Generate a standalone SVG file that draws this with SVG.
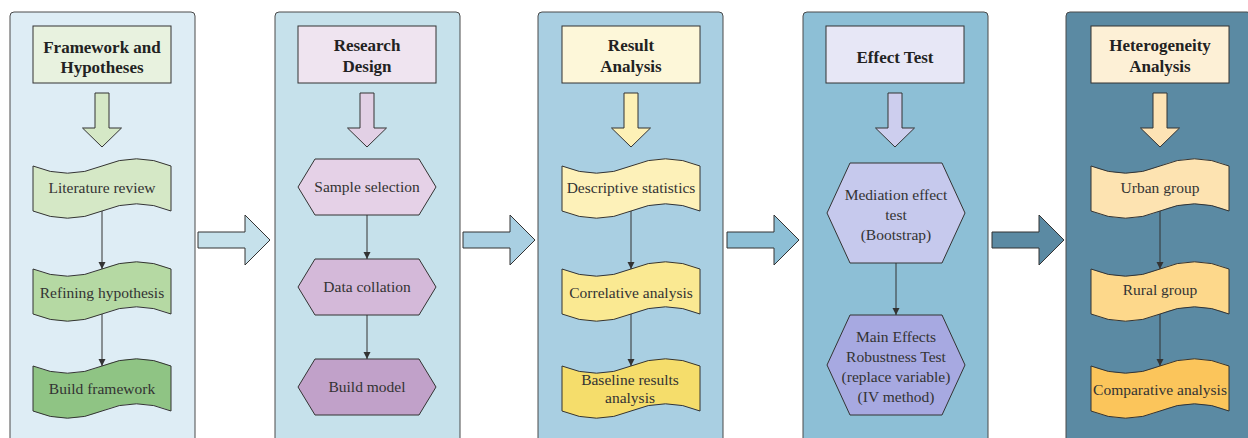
<svg xmlns="http://www.w3.org/2000/svg" xmlns:xlink="http://www.w3.org/1999/xlink" width="1248" height="438" viewBox="0 0 1248 438">
  <style>
    .panel { stroke: #4a4a4a; stroke-width: 1; }
    .box { stroke: #333333; stroke-width: 1; }
    .title { font-family: "Liberation Serif", "Times New Roman", serif; font-size: 17px; font-weight: bold; fill: #222222; text-anchor: middle; }
    .lbl { font-family: "Liberation Serif", "Times New Roman", serif; font-size: 15.5px; fill: #333333; text-anchor: middle; }
    .conn { stroke: #333333; stroke-width: 1; fill: none; }
  </style>
  <defs>
    <marker id="ah" viewBox="0 0 10 10" refX="10" refY="5" markerWidth="7" markerHeight="8" markerUnits="userSpaceOnUse" orient="auto">
      <path d="M0,0 L10,5 L0,10 Z" fill="#333333"/>
    </marker>
    <path id="tape" d="M0,8 Q34.5,22.4 69,8 Q103.5,-6.4 138,8 L138,53 Q103.5,38.6 69,53 Q34.5,67.4 0,53 Z"/>
    <path id="downArrow" d="M-7,93 H7 V128 H19.5 L0,147 L-19.5,128 H-7 Z"/>
    <path id="rightArrow" d="M0,232 H47 V215 L72,240 L47,265 V248 H0 Z"/>
    <polygon id="hexS" points="0,28 17,0 121,0 138,28 121,56 17,56"/>
    <polygon id="hexL" points="0,50 23,0 115,0 138,50 115,100 23,100"/>
  </defs>

  <!-- Panels -->
  <g id="panels">
    <rect class="panel" x="10" y="12" width="185" height="440" rx="4" fill="#deedf5"/>
    <rect class="panel" x="275" y="12" width="185" height="440" rx="4" fill="#c6e1eb"/>
    <rect class="panel" x="538" y="12" width="185" height="440" rx="4" fill="#a9cfe2"/>
    <rect class="panel" x="803" y="12" width="185" height="440" rx="4" fill="#8dbfd6"/>
    <rect class="panel" x="1066" y="12" width="185" height="440" rx="4" fill="#5b8aa3"/>
  </g>

  <!-- Column 1 -->
  <g id="title1">
    <rect class="box" x="33" y="26" width="138" height="57" fill="#e8f2df"/>
    <text class="title" x="102" y="52.5">Framework and</text>
    <text class="title" x="102" y="72.5">Hypotheses</text>
  </g>
  <g id="down1"><use href="#downArrow" transform="translate(102,0)" class="box" fill="#d5e8c6" stroke="#333333"/></g>
  <g id="lit"><use href="#tape" transform="translate(33,158)" fill="#d5e8c6" stroke="#333333"/><text class="lbl" x="102" y="193">Literature review</text></g>
  <g id="refine"><use href="#tape" transform="translate(33,261)" fill="#b5d9a3" stroke="#333333"/><text class="lbl" x="102" y="298">Refining hypothesis</text></g>
  <g id="buildfw"><use href="#tape" transform="translate(33,358)" fill="#8fc484" stroke="#333333"/><text class="lbl" x="102" y="394">Build framework</text></g>

  <!-- Column 2 -->
  <g id="title2">
    <rect class="box" x="298" y="26" width="138" height="57" fill="#efe4f0"/>
    <text class="title" x="367" y="51">Research</text>
    <text class="title" x="367" y="71.5">Design</text>
  </g>
  <g id="down2"><use href="#downArrow" transform="translate(367,0)" fill="#e2d0e5" stroke="#333333"/></g>
  <g id="sample"><use href="#hexS" transform="translate(298,159)" fill="#e5d1e7" stroke="#333333"/><text class="lbl" x="367" y="192">Sample selection</text></g>
  <g id="collation"><use href="#hexS" transform="translate(298,259)" fill="#d4b9d9" stroke="#333333"/><text class="lbl" x="367" y="292">Data collation</text></g>
  <g id="model"><use href="#hexS" transform="translate(298,359)" fill="#c1a1c9" stroke="#333333"/><text class="lbl" x="367" y="392">Build model</text></g>

  <!-- Column 3 -->
  <g id="title3">
    <rect class="box" x="562" y="26" width="138" height="57" fill="#fdf7d9"/>
    <text class="title" x="631" y="51">Result</text>
    <text class="title" x="631" y="71.5">Analysis</text>
  </g>
  <g id="down3"><use href="#downArrow" transform="translate(631,0)" fill="#fdf1b6" stroke="#333333"/></g>
  <g id="desc"><use href="#tape" transform="translate(562,158)" fill="#fdf1b9" stroke="#333333"/><text class="lbl" x="631" y="193">Descriptive statistics</text></g>
  <g id="corr"><use href="#tape" transform="translate(562,261)" fill="#fae992" stroke="#333333"/><text class="lbl" x="631" y="298">Correlative analysis</text></g>
  <g id="baseline"><use href="#tape" transform="translate(562,358)" fill="#f5dd6b" stroke="#333333"/><text class="lbl" x="630" y="385">Baseline results</text><text class="lbl" x="630" y="403">analysis</text></g>

  <!-- Column 4 -->
  <g id="title4">
    <rect class="box" x="826" y="26" width="138" height="57" fill="#e7e7f6"/>
    <text class="title" x="895" y="62.5">Effect Test</text>
  </g>
  <g id="down4"><use href="#downArrow" transform="translate(895,0)" fill="#cdceee" stroke="#333333"/></g>
  <g id="mediation"><use href="#hexL" transform="translate(827,163)" fill="#c6c9ed" stroke="#333333"/>
    <text class="lbl" x="896" y="200">Mediation effect</text>
    <text class="lbl" x="896" y="220">test</text>
    <text class="lbl" x="896" y="240">(Bootstrap)</text>
  </g>
  <g id="robust"><use href="#hexL" transform="translate(827,315)" fill="#a7a9e1" stroke="#333333"/>
    <text class="lbl" x="896" y="342">Main Effects</text>
    <text class="lbl" x="896" y="362">Robustness Test</text>
    <text class="lbl" x="896" y="382">(replace variable)</text>
    <text class="lbl" x="896" y="402">(IV method)</text>
  </g>

  <!-- Column 5 -->
  <g id="title5">
    <rect class="box" x="1091" y="26" width="138" height="57" fill="#fdf0d6"/>
    <text class="title" x="1160" y="51">Heterogeneity</text>
    <text class="title" x="1160" y="71.5">Analysis</text>
  </g>
  <g id="down5"><use href="#downArrow" transform="translate(1160,0)" fill="#fde3b5" stroke="#333333"/></g>
  <g id="urban"><use href="#tape" transform="translate(1091,158)" fill="#fde3b1" stroke="#333333"/><text class="lbl" x="1160" y="193">Urban group</text></g>
  <g id="rural"><use href="#tape" transform="translate(1091,261)" fill="#fdd88b" stroke="#333333"/><text class="lbl" x="1160" y="295">Rural group</text></g>
  <g id="compar"><use href="#tape" transform="translate(1091,358)" fill="#fbc55b" stroke="#333333"/><text class="lbl" x="1160" y="395">Comparative analysis</text></g>

  <!-- Connectors -->
  <g id="connectors">
    <line class="conn" x1="102" y1="211" x2="102" y2="269" marker-end="url(#ah)"/>
    <line class="conn" x1="102" y1="314" x2="102" y2="366" marker-end="url(#ah)"/>
    <line class="conn" x1="367" y1="215" x2="367" y2="259" marker-end="url(#ah)"/>
    <line class="conn" x1="367" y1="315" x2="367" y2="359" marker-end="url(#ah)"/>
    <line class="conn" x1="631" y1="211" x2="631" y2="269" marker-end="url(#ah)"/>
    <line class="conn" x1="631" y1="314" x2="631" y2="366" marker-end="url(#ah)"/>
    <line class="conn" x1="896" y1="263" x2="896" y2="315" marker-end="url(#ah)"/>
    <line class="conn" x1="1160" y1="211" x2="1160" y2="269" marker-end="url(#ah)"/>
    <line class="conn" x1="1160" y1="314" x2="1160" y2="366" marker-end="url(#ah)"/>
    <use href="#rightArrow" transform="translate(198,0)" fill="#c6e1eb" stroke="#333333"/>
    <use href="#rightArrow" transform="translate(463,0)" fill="#a9cfe2" stroke="#333333"/>
    <use href="#rightArrow" transform="translate(727,0)" fill="#8dbfd6" stroke="#333333"/>
    <use href="#rightArrow" transform="translate(992,0)" fill="#5b8aa3" stroke="#333333"/>
  </g>
</svg>
